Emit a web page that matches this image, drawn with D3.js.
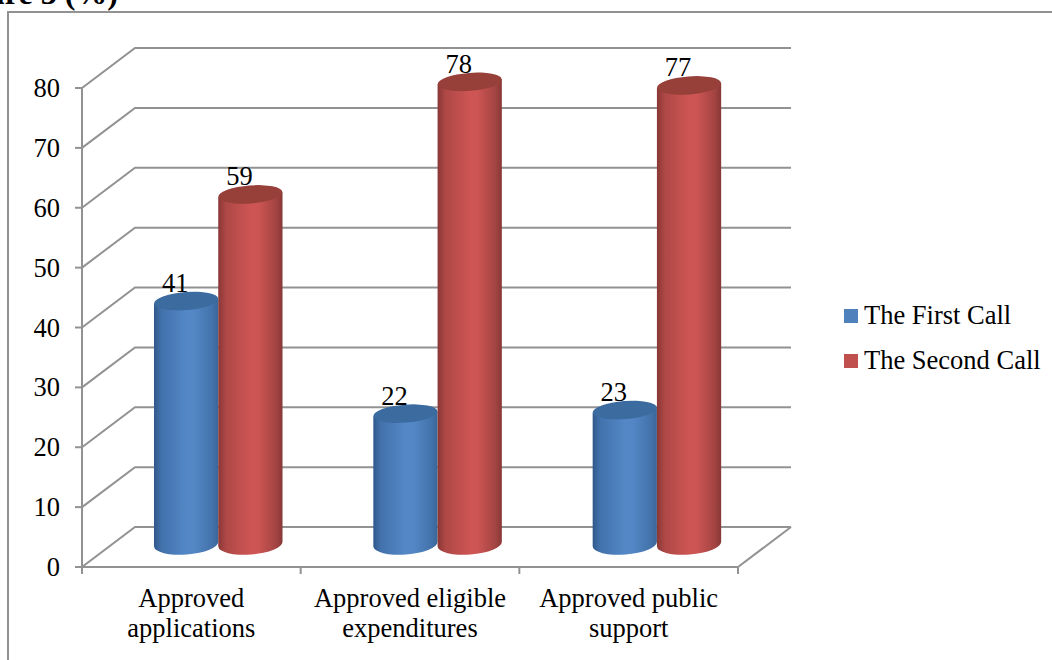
<!DOCTYPE html>
<html><head><meta charset="utf-8">
<script src="https://cdn.jsdelivr.net/npm/d3@7"></script>
<style>html,body{margin:0;padding:0;background:#fff}svg{display:block}text{font-family:"Liberation Serif",serif;fill:#000}</style>
</head><body><svg id="c" width="1052" height="660"></svg>
<script>
const categories=[["Approved","applications"],["Approved eligible","expenditures"],["Approved public","support"]];
const seriesNames=["The First Call","The Second Call"];
const firstCall=[41,22,22.6];
const secondCall=[59,78,77.4];
const ticks=[0,10,20,30,40,50,60,70,80];
const valuesBySeries=[firstCall,secondCall];
const bodyColors=[["#30598c","#5387c6","#3a6699"],["#893735","#cd5553","#873836"]];
const capColors=["#3b6b9f","#964039"];
const legendColors=["#4f81bd","#c0504d"];
const svg=d3.select("#c");
const grey="#929292";
const fs=26.5;
const y=d3.scaleLinear().domain([0,80]).range([567,88]);
const x=d3.scaleBand().domain(d3.range(3)).range([82,738]);
const barGroup=d3.scaleBand().domain(d3.range(3)).range([154,812]);
const yBar=d3.scaleLinear().domain([0,80]).range([544,70]);
const dx=53,dy=-40;
const fmt=d3.format(".0f");
const defs=svg.append("defs");
bodyColors.forEach((c,i)=>{const g=defs.append("linearGradient").attr("id","g"+i);
 [[0,c[0]],[.12,d3.interpolateRgb(c[0],c[1])(.55)],[.5,c[1]],[.62,c[1]],[.9,d3.interpolateRgb(c[2],c[1])(.4)],[1,c[2]]].forEach(s=>g.append("stop").attr("offset",s[0]).attr("stop-color",s[1]));});
svg.append("path").attr("d",d3.line()([[1052,12],[8,12],[8,660]])).attr("fill","none").attr("stroke",grey).attr("stroke-width",2);
svg.append("text").attr("x",118).attr("y",4).attr("text-anchor","end").attr("font-size",32).attr("font-weight","bold").text("Figure 3 (%)");
const grid=svg.append("g").attr("fill","none").attr("stroke",grey).attr("stroke-width",2);
ticks.forEach(t=>{grid.append("path").attr("d",d3.line()([[82,y(t)],[82+dx,y(t)+dy],[791,y(t)+dy]]));});
grid.append("path").attr("d",d3.line()([[738,567],[791,527]]));
grid.append("path").attr("d",d3.line()([[82,y(80)],[82,567],[738,567]]));
ticks.forEach(t=>{grid.append("line").attr("x1",75).attr("x2",82).attr("y1",y(t)).attr("y2",y(t));
 svg.append("text").attr("x",60).attr("y",y(t)+9).attr("text-anchor","end").attr("font-size",fs).text(t);});
[0,1,2,3].forEach(i=>{const px=82+i*x.bandwidth();grid.append("line").attr("x1",px).attr("x2",px).attr("y1",567).attr("y2",574);});
const inner=d3.scaleBand().domain([0,1]).range([0,128.5]);
const rx=inner.bandwidth()/2, ry=9, ryBottom=10.5, tilt=-4.5;
const labelShift=-11;
categories.forEach((cat,ci)=>{
 const x0=barGroup(ci);
 valuesBySeries.forEach((vals,si)=>{
  const xl=x0+inner(si), xc=xl+rx, t=yBar(vals[ci]), b=yBar(0);
  const sin=Math.sin(tilt*Math.PI/180)*rx;
  const g=svg.append("g");
  g.append("path").attr("d",`M${xl},${t-sin} L${xl},${b-sin} A${rx},${ryBottom} ${tilt} 0 0 ${xl+2*rx},${b+sin} L${xl+2*rx},${t+sin} Z`).attr("fill",`url(#g${si})`);
  g.append("ellipse").attr("cx",xc).attr("cy",t).attr("rx",rx).attr("ry",ry).attr("transform",`rotate(${tilt} ${xc} ${t})`).attr("fill",capColors[si]);
  svg.append("text").attr("x",xc+labelShift).attr("y",t-9).attr("text-anchor","middle").attr("font-size",fs).text(fmt(vals[ci]));
 });
 const cx=x(ci)+x.bandwidth()/2;
 cat.forEach((l,li)=>svg.append("text").attr("x",cx).attr("y",607+li*30).attr("text-anchor","middle").attr("font-size",fs).text(l));
});
seriesNames.forEach((n,i)=>{const ly=309+i*45;
 svg.append("rect").attr("x",844).attr("y",ly).attr("width",14).attr("height",14).attr("fill",legendColors[i]);
 svg.append("text").attr("x",864).attr("y",ly+14.5).attr("font-size",fs).text(n);});
</script></body></html>
